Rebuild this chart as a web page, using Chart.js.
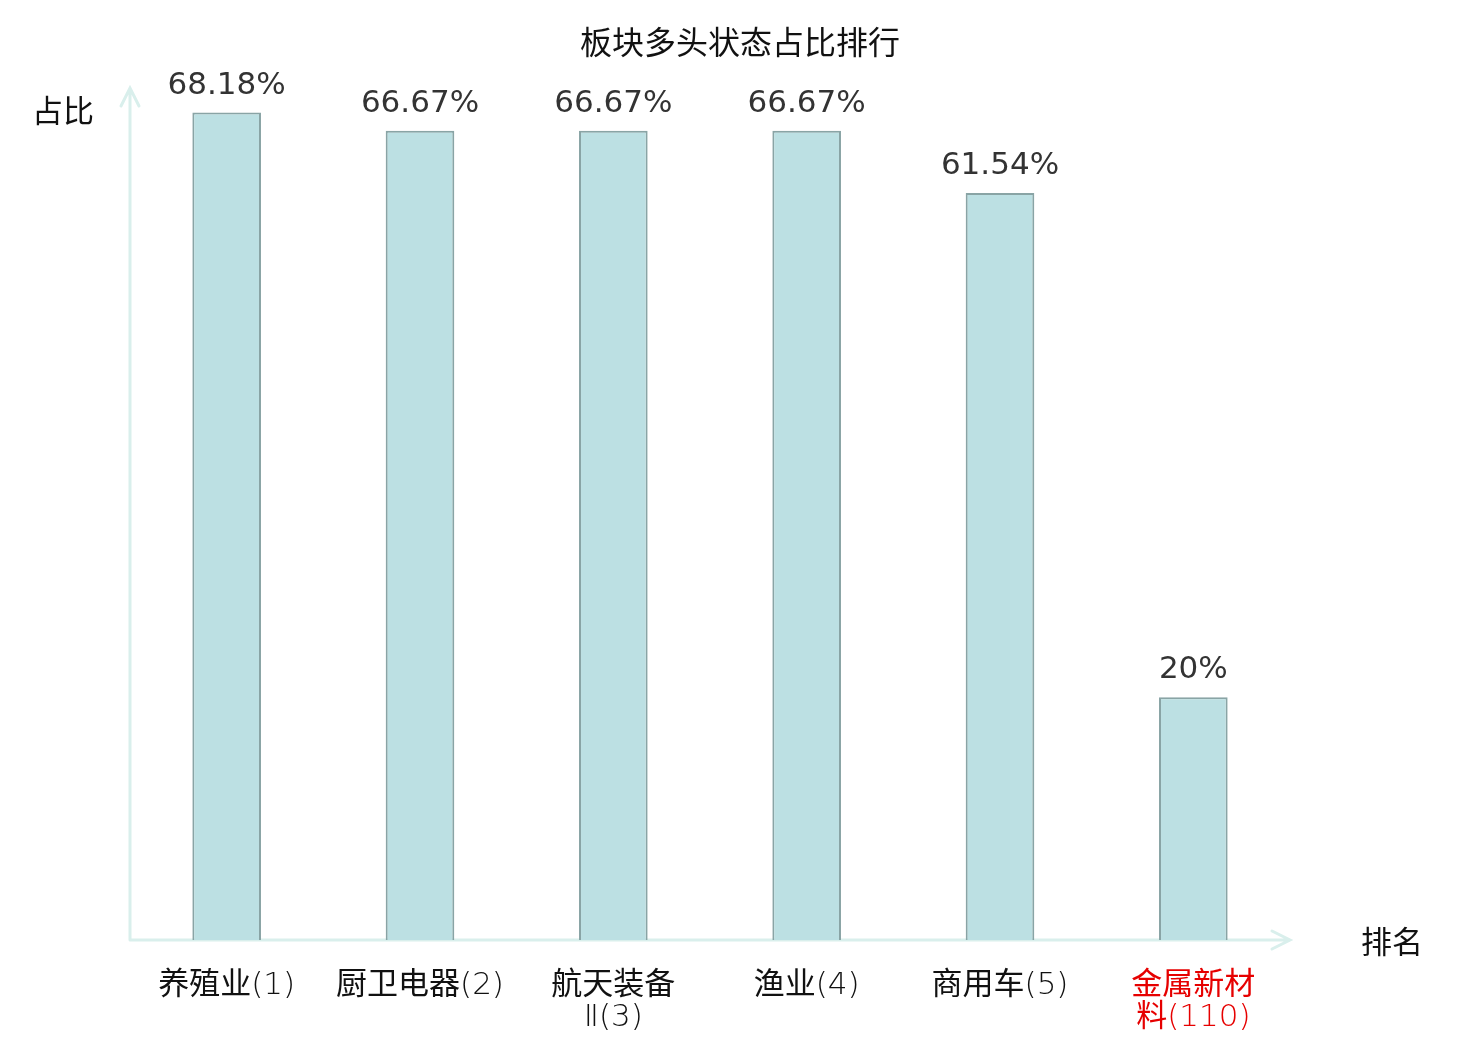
<!DOCTYPE html>
<html>
<head>
<meta charset="utf-8">
<script src="https://cdn.jsdelivr.net/npm/chart.js@4/dist/chart.umd.min.js"></script>
<style>
  html, body { margin: 0; padding: 0; background: #fff; }
  #wrap { width: 1480px; height: 1040px; }
</style>
</head>
<body>
<div id="wrap"><canvas id="rankChart"></canvas></div>
<script>
const TITLE = "板块多头状态占比排行";
const Y_TITLE = "占比";
const X_TITLE = "排名";
const categories = [
  ["养殖业(1)"],
  ["厨卫电器(2)"],
  ["航天装备", "Ⅱ(3)"],
  ["渔业(4)"],
  ["商用车(5)"],
  ["金属新材", "料(110)"],
];
const shares = [68.18, 66.67, 66.67, 66.67, 61.54, 20];
const highlighted = [false, false, false, false, false, true];

const CJK = "'Noto Sans CJK SC', 'DejaVu Sans', sans-serif";
const LABEL_FONT = "'DejaVu Sans Light', 'DejaVu Sans', 'Noto Sans CJK SC', sans-serif";
const AXIS_COLOR = "#d9efec";

const fmtPct = (v) => `${parseFloat(v.toFixed(2))}%`;

// arrows, titles and value labels
const decor = {
  id: "decor",
  beforeDatasetsDraw(chart) {
    const { ctx, chartArea: a } = chart;
    ctx.save();
    ctx.strokeStyle = AXIS_COLOR;
    ctx.lineWidth = 3;
    ctx.lineCap = "round";
    ctx.beginPath();
    ctx.moveTo(a.left, a.bottom);
    ctx.lineTo(a.left, a.top);
    ctx.moveTo(a.left - 9, a.top + 18);
    ctx.lineTo(a.left, a.top);
    ctx.lineTo(a.left + 9, a.top + 18);
    ctx.moveTo(a.left, a.bottom);
    ctx.lineTo(a.right, a.bottom);
    ctx.moveTo(a.right - 18, a.bottom - 9);
    ctx.lineTo(a.right, a.bottom);
    ctx.lineTo(a.right - 18, a.bottom + 9);
    ctx.stroke();
    ctx.restore();
  },
  afterDatasetsDraw(chart) {
    const { ctx, chartArea: a } = chart;
    ctx.save();
    ctx.textAlign = "center";
    ctx.textBaseline = "middle";
    ctx.fillStyle = "#111";
    ctx.font = `32px ${CJK}`;
    ctx.fillText(TITLE, chart.width / 2, 42);
    ctx.font = `31px ${CJK}`;
    ctx.fillText(Y_TITLE, 63, 110);
    ctx.fillText(X_TITLE, 1392, a.bottom + 1);

    ctx.fillStyle = "#333";
    ctx.font = "31px 'DejaVu Sans', sans-serif";
    chart.getDatasetMeta(0).data.forEach((bar, i) => {
      ctx.fillText(fmtPct(shares[i]), bar.x, bar.y - 27);
    });
    ctx.restore();
  },
};

new Chart(document.getElementById("rankChart"), {
  type: "bar",
  data: {
    labels: categories,
    datasets: [
      {
        data: shares,
        backgroundColor: "#bce0e3",
        borderColor: "#89a4a5",
        borderWidth: 2,
        categoryPercentage: 1,
        barPercentage: 0.355,
      },
    ],
  },
  options: {
    responsive: true,
    maintainAspectRatio: false,
    animation: false,
    layout: {
      padding: { left: 130, right: 190, top: 88, bottom: 0 },
    },
    plugins: {
      legend: { display: false },
      title: { display: false },
      tooltip: { enabled: false },
    },
    scales: {
      x: {
        grid: { display: false, drawTicks: false },
        border: { display: false },
        ticks: {
          padding: 30,
          maxRotation: 0,
          autoSkip: false,
          font: { family: LABEL_FONT, size: 31, lineHeight: 1.03 },
          color: (c) => (highlighted[c.index] ? "#e60000" : "#111"),
        },
        afterFit: (scale) => {
          scale.height = 100;
        },
      },
      y: {
        display: false,
        min: 0,
        max: 70.2,
      },
    },
  },
  plugins: [decor],
});
</script>
</body>
</html>
